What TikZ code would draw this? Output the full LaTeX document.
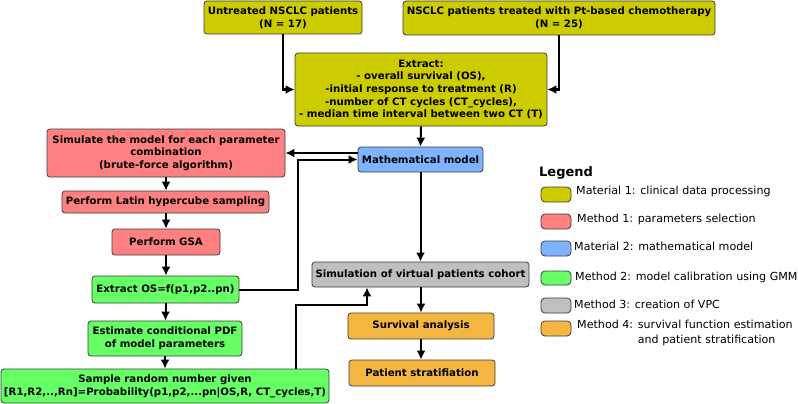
\documentclass[tikz,border=0pt]{standalone}
\usepackage{fontspec}
\setmainfont{DejaVu Sans}
\usetikzlibrary{arrows.meta}
\definecolor{cyel}{RGB}{204,204,0}
\definecolor{cred}{RGB}{255,128,128}
\definecolor{cblu}{RGB}{128,179,255}
\definecolor{cgrn}{RGB}{102,255,102}
\definecolor{cgry}{RGB}{191,191,191}
\definecolor{corg}{RGB}{244,182,64}
\definecolor{cbord}{RGB}{60,60,60}
\tikzset{
  boxst/.style={draw=cbord, line width=0.8pt, rounded corners=3pt, inner sep=0pt,
    align=center, font=\fontsize{10.2}{12.7}\selectfont\bfseries},
  swatch/.style={draw=cbord, line width=0.8pt, rounded corners=4pt},
  legtxt/.style={anchor=west, inner sep=0pt, align=left, font=\fontsize{11.1}{15}\selectfont},
  arr/.style={line width=2pt, -{Latex[length=9pt,width=9pt]}},
}
\begin{document}
\begin{tikzpicture}[x=1pt,y=-1pt]
\useasboundingbox (0,0) rectangle (798,404);
% nodes
\node[boxst, fill=cyel, minimum width=158, minimum height=33] (untr) at (283,17.5) {Untreated NSCLC patients\\(N = 17)};
\node[boxst, fill=cyel, minimum width=312, minimum height=34] (treat) at (559,18) {NSCLC patients treated with Pt-based chemotherapy\\(N = 25)};
\node[boxst, fill=cyel, minimum width=252, minimum height=73] (extract) at (421,89.5) {Extract:\\- overall survival (OS),\\-initial response to treatment (R)\\-number of CT cycles (CT\_cycles),\\- median time interval between two CT (T)};
\node[boxst, fill=cblu, minimum width=125, minimum height=25] (math) at (420.5,159.5) {Mathematical model};
\node[boxst, fill=cgry, minimum width=217, minimum height=25] (vpc) at (420.5,274.5) {Simulation of virtual patients cohort};
\node[boxst, fill=corg, minimum width=146, minimum height=26] (surv) at (421,326) {Survival analysis};
\node[boxst, fill=corg, minimum width=146, minimum height=26] (strat) at (422,373) {Patient stratifiation};
\node[boxst, fill=cred, minimum width=238, minimum height=48] (simm) at (166,153) {Simulate the model for each parameter\\combination\\(brute-force algorithm)};
\node[boxst, fill=cred, minimum width=207, minimum height=22] (lhs) at (165.5,202) {Perform Latin hypercube sampling};
\node[boxst, fill=cred, minimum width=108, minimum height=26] (gsa) at (166,242) {Perform GSA};
\node[boxst, fill=cgrn, minimum width=147, minimum height=27] (eos) at (165.5,289.5) {Extract OS=f(p1,p2..pn)};
\node[boxst, fill=cgrn, minimum width=154, minimum height=35] (est) at (165,338.5) {Estimate conditional PDF\\of model parameters};
\node[boxst, fill=cgrn, minimum width=328, minimum height=34] (sample) at (165,386) {Sample random number given\\{}[R1,R2,..,Rn]=Probability(p1,p2,...pn|OS,R, CT\_cycles,T)};
% helper coordinates
\coordinate (c1) at (298,0);
\coordinate (c2) at (296,305);
\coordinate (c3) at (367,0);
% connectors
\draw[arr] (untr.south) |- (extract.west);
\draw[arr] (treat.south) |- (extract.east);
\draw[arr] (extract.south) -- (math.north);
\draw[arr] (math.west |- simm.east) -- (simm.east);
\draw[arr] (eos.east) -- (eos.east -| c1) -- (c1 |- math.west) -- (math.west);
\draw[arr] (math.south) -- (math.south |- vpc.north);
\draw[arr] (sample.north -| c2) -- (c2) -- (c2 -| c3) -- (c3 |- vpc.south);
\draw[arr] (vpc.south -| surv.north) -- (surv.north);
\draw[arr] (surv.south) -- (surv.south |- strat.north);
\draw[arr] (simm.south) -- (simm.south |- lhs.north);
\draw[arr] (lhs.south -| gsa.north) -- (gsa.north);
\draw[arr] (gsa.south) -- (gsa.south |- eos.north);
\draw[arr] (eos.south) -- (eos.south |- est.north);
\draw[arr] (est.south) -- (est.south |- sample.north);
% legend
\node[anchor=west, inner sep=0pt, font=\fontsize{13}{15}\selectfont\bfseries] (legt) at (539,173) {Legend};
\draw[swatch, fill=cyel] (541,187) rectangle (571,202);
\draw[swatch, fill=cred] (541,214) rectangle (571,229);
\draw[swatch, fill=cblu] (541,241) rectangle (571,256);
\draw[swatch, fill=cgrn] (541,271) rectangle (571,285);
\draw[swatch, fill=cgry] (541,298) rectangle (571,313);
\draw[swatch, fill=corg] (541,321) rectangle (571,336);
\node[legtxt] (l1) at (576,191.5) {Material 1: clinical data processing};
\node[legtxt] (l2) at (577,219.5) {Method 1: parameters selection};
\node[legtxt] (l3) at (574,246.5) {Material 2: mathematical model};
\node[legtxt] (l4) at (575,277) {Method 2: model calibration using GMM};
\node[legtxt] (l5) at (574,304) {Method 3: creation of VPC};
\node[legtxt, anchor=north west] (l6) at (577,320) {Method 4: survival function estimation\\\hphantom{Method 4: }and patient stratification};
\end{tikzpicture}
\end{document}
